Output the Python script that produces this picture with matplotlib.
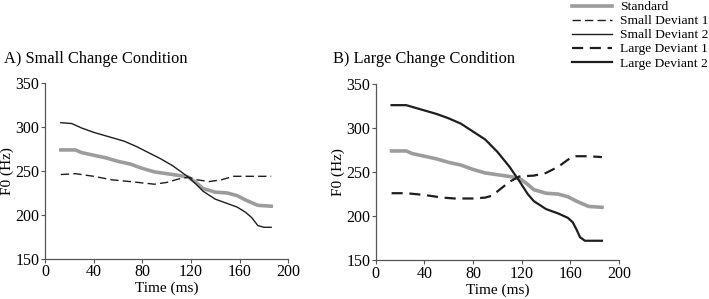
import matplotlib
matplotlib.use("Agg")
import matplotlib.pyplot as plt
from matplotlib.lines import Line2D

plt.rcParams['font.family'] = ['Liberation Serif', 'DejaVu Serif']

# time (ms) and F0 (Hz)
std_t = [13, 25, 30, 50, 60, 70, 80, 90, 100, 110, 118, 125, 130, 140, 150, 158, 165, 175, 186]
std_f = [274, 274, 271, 265, 261, 258, 253, 249, 247, 245, 243, 236, 230, 226, 225, 222, 217, 211, 210]

sd1_t = [13, 25, 40, 55, 70, 90, 100, 110, 118, 125, 135, 145, 155, 165, 186]
sd1_f = [246, 247, 244, 240, 238, 235, 237, 241, 243, 240, 238, 240, 244, 244, 244]

sd2_t = [13, 22, 30, 40, 55, 65, 75, 85, 95, 105, 112, 118, 125, 130, 140, 150, 158, 165, 170, 175, 180, 186]
sd2_f = [305, 304, 299, 294, 288, 284, 278, 271, 264, 256, 249, 243, 234, 227, 218, 213, 209, 203, 197, 188, 186, 186]

ld1_t = [13, 25, 40, 55, 65, 80, 90, 95, 100, 110, 118, 130, 140, 150, 160, 165, 175, 186]
ld1_f = [226, 226, 224, 221, 220, 220, 221, 223, 228, 239, 245, 246, 249, 256, 266, 268, 268, 267]

ld2_t = [13, 25, 35, 50, 60, 70, 80, 90, 100, 110, 118, 125, 130, 140, 150, 158, 162, 165, 168, 172, 186]
ld2_f = [326, 326, 322, 316, 311, 305, 296, 287, 273, 256, 240, 225, 217, 208, 203, 198, 193, 185, 176, 172, 172]

gray = '#9c9c9c'
dark = '#1e1e1e'

fig = plt.figure(figsize=(7.09, 2.99), dpi=100)
axA = fig.add_axes([0.0635, 0.134, 0.343, 0.588])
axB = fig.add_axes([0.530, 0.130, 0.343, 0.589])

axA.plot(std_t, std_f, color=gray, lw=2.6)
axA.plot(sd1_t, sd1_f, color=dark, lw=1.0, ls=(0, (6, 3)))
axA.plot(sd2_t, sd2_f, color=dark, lw=1.0)

axB.plot(std_t, std_f, color=gray, lw=2.6)
axB.plot(ld1_t, ld1_f, color=dark, lw=1.6, ls=(0, (5, 3)))
axB.plot(ld2_t, ld2_f, color=dark, lw=1.6)

for ax in (axA, axB):
    ax.set_xlim(0, 200)
    ax.set_ylim(150, 350)
    ax.set_xticks([0, 40, 80, 120, 160, 200])
    ax.set_yticks([150, 200, 250, 300, 350])
    ax.spines['top'].set_visible(False)
    ax.spines['right'].set_visible(False)
    for s in ('left', 'bottom'):
        ax.spines[s].set_color('#555555')
        ax.spines[s].set_linewidth(0.9)
    ax.tick_params(labelsize=11.5, length=3, width=0.8, color='#555555', pad=1)
    ax.set_xlabel('Time (ms)', fontsize=11, labelpad=1)
    ax.set_ylabel('F0 (Hz)', fontsize=11, labelpad=1)

fig.text(0.005, 0.789, 'A) Small Change Condition', fontsize=11.8, va='baseline')
fig.text(0.470, 0.789, 'B) Large Change Condition', fontsize=11.8, va='baseline')

handles = [
    Line2D([], [], color=gray, lw=2.6),
    Line2D([], [], color=dark, lw=1.0, ls=(0, (6, 3))),
    Line2D([], [], color=dark, lw=1.0),
    Line2D([], [], color=dark, lw=1.6, ls=(0, (5, 3))),
    Line2D([], [], color=dark, lw=1.6),
]
labels = ['Standard', 'Small Deviant 1', 'Small Deviant 2', 'Large Deviant 1', 'Large Deviant 2']
fig.legend(handles, labels, loc='upper left', bbox_to_anchor=(0.799, 1.015),
           frameon=False, fontsize=9.7, handlelength=3.0, handletextpad=0.6,
           labelspacing=0.12, borderaxespad=0)

fig.savefig('out.png', dpi=100)
